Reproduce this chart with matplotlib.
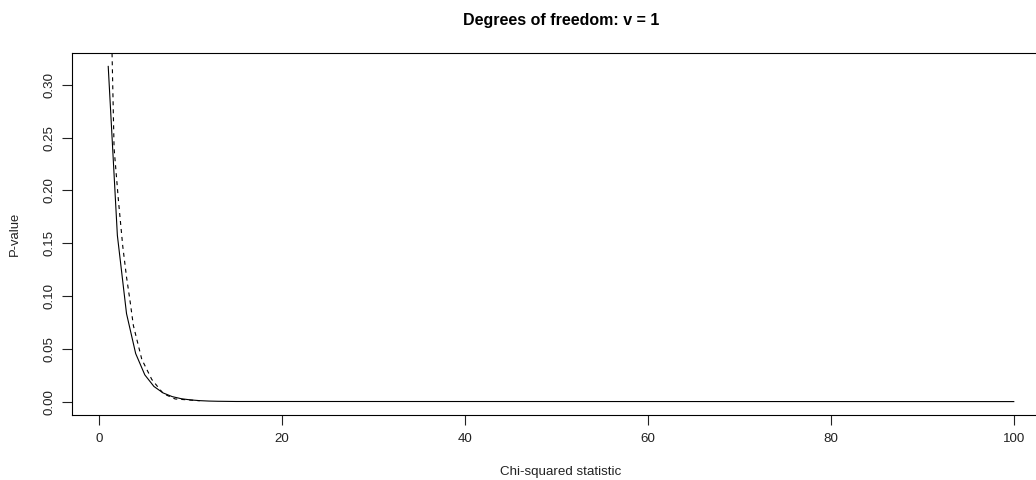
import matplotlib
matplotlib.use("Agg")
import matplotlib.pyplot as plt

# upper tail probability of the chi-squared statistic, df = 1
chisq_x = [1, 2, 3, 4, 5, 6, 7, 8, 9, 10, 11, 12, 13, 14, 15, 100]
pvalue = [0.3173, 0.1573, 0.0833, 0.0455, 0.0253, 0.0143, 0.0082, 0.0047,
          0.0027, 0.0016, 0.0009, 0.0005, 0.0003, 0.0002, 0.0001, 0.0]

# dashed comparison curve
dash_x = [1.35, 1.42, 1.64, 2.11, 2.59, 3.00, 3.39, 3.75, 4.67, 5.76,
          7.03, 8.31, 11.0]
dash_p = [0.36, 0.329, 0.240, 0.191, 0.147, 0.118, 0.095, 0.072, 0.040,
          0.021, 0.0075, 0.0025, 0.0008]

xticks = [0, 20, 40, 60, 80, 100]
yticks = [0.00, 0.05, 0.10, 0.15, 0.20, 0.25, 0.30]

W, H = 1036, 480
plt.rcParams['font.family'] = ['Liberation Sans', 'DejaVu Sans']
fig = plt.figure(figsize=(W / 100, H / 100), dpi=100)
left, right, top, bottom = 72, 1050, 53, 415
ax = fig.add_axes([left / W, (H - bottom) / H, (right - left) / W, (bottom - top) / H])

ax.plot(chisq_x, pvalue, color='black', lw=0.8)
ax.plot(dash_x, dash_p, color='black', lw=0.8, ls=(0, (3.6, 3.6)))

# R-style range: data range padded by 4%
xmin, xmax = min(chisq_x), max(chisq_x)
ymin, ymax = min(pvalue), max(pvalue)
ax.set_xlim(xmin - 0.04 * (xmax - xmin), xmax + 0.04 * (xmax - xmin))
ax.set_ylim(ymin - 0.04 * (ymax - ymin), ymax + 0.04 * (ymax - ymin))

ax.set_xticks(xticks)
ax.set_xticklabels([str(t) for t in xticks])
ax.set_yticks(yticks)
ax.set_yticklabels(['%.2f' % t for t in yticks], rotation=90, va='center')
ax.tick_params(direction='out', length=7, width=0.8, labelsize=9.6,
               colors='#222222', pad=6)
ax.tick_params(axis='y', pad=5)
for s in ax.spines.values():
    s.set_linewidth(0.8)
    s.set_color('black')

fig.text((left + right) / 2 / W, 1 - 20 / H, 'Degrees of freedom: v = 1',
         ha='center', va='center', fontsize=11.5, fontweight='bold')
fig.text((left + right) / 2 / W, 1 - 472 / H, 'Chi-squared statistic',
         ha='center', va='center', fontsize=9.6, color='#222222')
fig.text(15 / W, 1 - (top + bottom) / 2 / H, 'P-value', rotation=90,
         ha='center', va='center', fontsize=9.4, color='#222222')

fig.savefig('out.png', dpi=100)
